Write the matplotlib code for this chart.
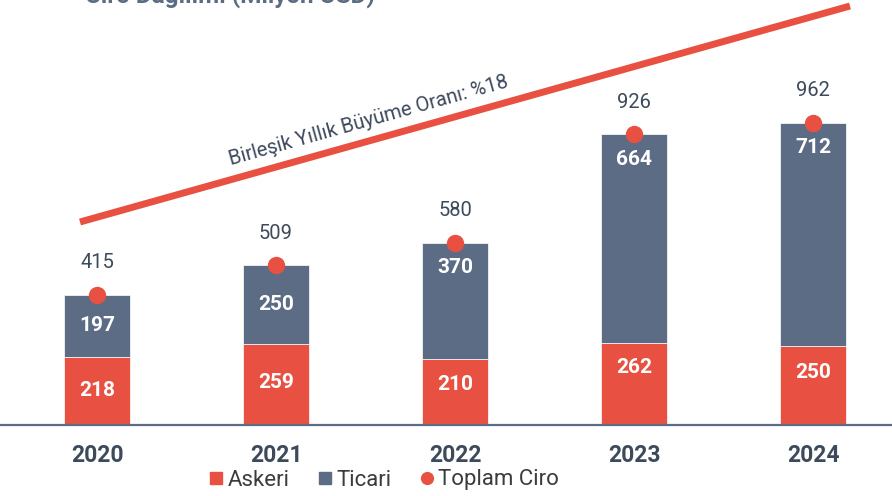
import numpy as np
import matplotlib.pyplot as plt
from matplotlib.lines import Line2D

# Data
years = ['2020', '2021', '2022', '2023', '2024']
askeri = [218, 259, 210, 262, 250]
ticari = [197, 250, 370, 664, 712]
toplam = [415, 509, 580, 926, 962]

red = '#e85142'
blue = '#5b6c84'
text_dark = '#3d4a5c'

plt.rcParams['font.family'] = ['Roboto', 'DejaVu Sans']


def main():
    fig = plt.figure(figsize=(8.92, 4.96), dpi=100)
    ax = fig.add_axes([0, 0.1431, 1, 0.8569])

    x = np.arange(len(years))
    ax.bar(x, askeri, width=0.37, color=red, edgecolor='white', linewidth=0.5)
    ax.bar(x, ticari, width=0.37, bottom=askeri, color=blue, edgecolor='white', linewidth=0.5)
    ax.plot(x, toplam, 'o', color=red, markersize=11.5, zorder=5)

    ax.set_xlim(-0.542, 4.441)
    ax.set_ylim(0, 1353)

    # px per unit, used to place labels inside the bars
    ppu = 0.314
    askeri_nudge = [0, 2, 8, 16, 13]  # px upward shift of the askeri labels
    for i in range(len(years)):
        ax.annotate(str(askeri[i]), (x[i], askeri[i] / 2), xytext=(0, askeri_nudge[i] * 0.72),
                    textcoords='offset points', ha='center', va='center',
                    color='white', fontsize=15, fontweight='bold')
        half = ticari[i] * ppu / 2
        off = half if half < 45 else 25
        ax.annotate(str(ticari[i]), (x[i], toplam[i]), xytext=(0, -off * 0.72),
                    textcoords='offset points', ha='center', va='center',
                    color='white', fontsize=15, fontweight='bold')
        ax.annotate(str(toplam[i]), (x[i], toplam[i]), xytext=(0, 23),
                    textcoords='offset points', ha='center', va='center',
                    color=text_dark, fontsize=14.5)

    # axis styling
    for s in ['top', 'right', 'left']:
        ax.spines[s].set_visible(False)
    ax.spines['bottom'].set_color(blue)
    ax.spines['bottom'].set_linewidth(1.6)
    ax.set_yticks([])
    ax.set_xticks(x)
    ax.set_xticklabels(years, fontsize=16.5, fontweight='bold', color=text_dark)
    ax.tick_params(axis='x', length=0, pad=14)

    # growth line (figure pixels converted to fractions)
    x0, y0, x1, y1 = 80, 222, 850, 6
    fig.add_artist(Line2D([x0 / 892, x1 / 892], [1 - y0 / 496, 1 - y1 / 496],
                          color=red, linewidth=5, solid_capstyle='butt'))
    fig.text(369 / 892, 1 - 121 / 496, 'Birleşik Yıllık Büyüme Oranı: %18',
             rotation=15.7, rotation_mode='anchor', ha='center', va='center',
             color=text_dark, fontsize=14.5)

    # title, cut off at the top edge
    fig.text(85 / 892, 1 - 3 / 496, 'Ciro Dağılımı (Milyon USD)', ha='left', va='baseline',
             color=blue, fontsize=17.5, fontweight='bold')

    # legend
    handles = [Line2D([], [], marker='s', linestyle='', color=red, markersize=8.5),
               Line2D([], [], marker='s', linestyle='', color=blue, markersize=8.5),
               Line2D([], [], marker='o', linestyle='', color=red, markersize=8.5)]
    fig.legend(handles, ['Askeri', 'Ticari', 'Toplam Ciro'], loc='center',
               bbox_to_anchor=(383 / 892, 1 - 480 / 496), ncol=3, frameon=False,
               fontsize=16, handletextpad=0.1, columnspacing=1.2, handlelength=0.8,
               labelcolor='#3c3c3c')

    fig.savefig('out.png', dpi=100)


if __name__ == '__main__':
    main()
